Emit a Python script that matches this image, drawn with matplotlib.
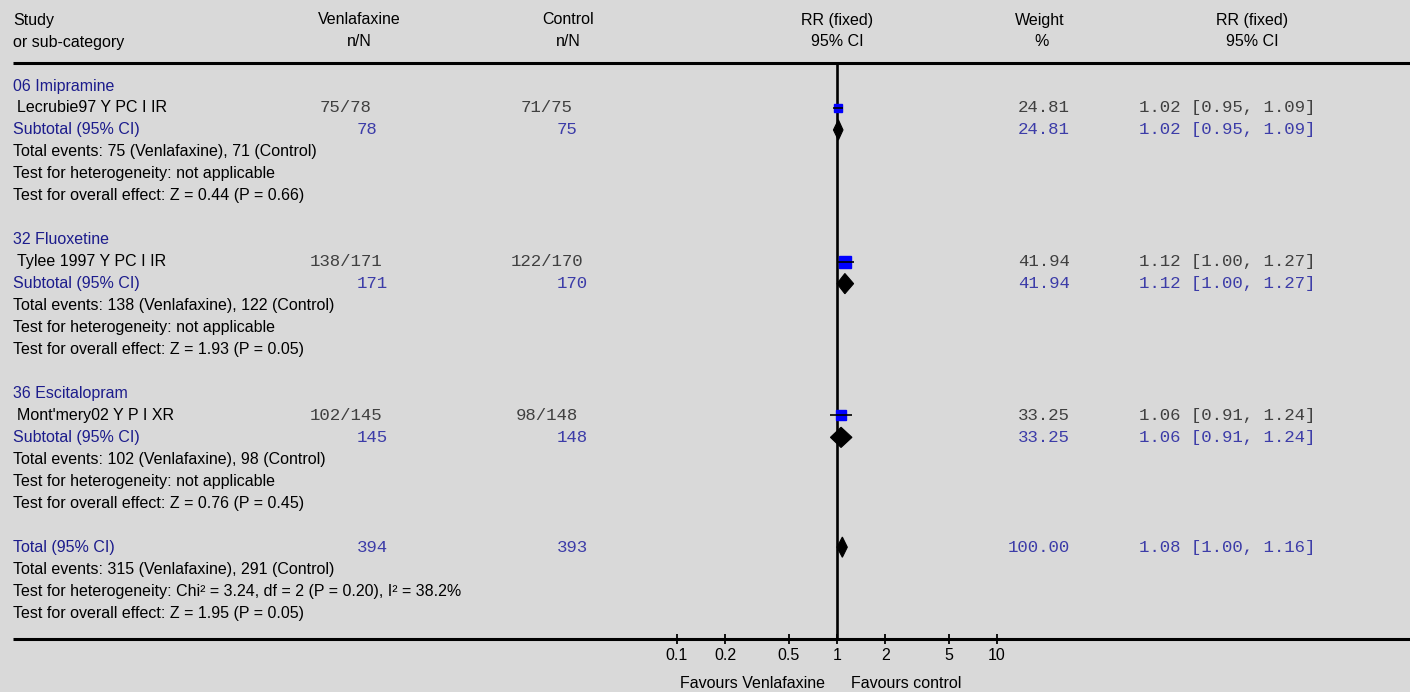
import numpy as np
import matplotlib
matplotlib.use("Agg")
import matplotlib.pyplot as plt
from matplotlib.patches import Polygon

# ---------------- data ----------------
groups = ["06 Imipramine", "32 Fluoxetine", "36 Escitalopram"]
studies = ["Lecrubie97 Y PC I IR", "Tylee 1997 Y PC I IR", "Mont'mery02 Y P I XR"]
ven_events = [75, 138, 102]
ven_n = [78, 171, 145]
ctl_events = [71, 122, 98]
ctl_n = [75, 170, 148]
weights = [24.81, 41.94, 33.25]
rr = [1.02, 1.12, 1.06]
rr_lo = [0.95, 1.00, 0.91]
rr_hi = [1.09, 1.27, 1.24]
z_vals = [0.44, 1.93, 0.76]
p_vals = [0.66, 0.05, 0.45]

total_ven_n = 394
total_ctl_n = 393
total_ven_ev = 315
total_ctl_ev = 291
total_weight = 100.00
total_rr, total_lo, total_hi = 1.08, 1.00, 1.16
chi2, df, p_het, i2 = 3.24, 2, 0.20, 38.2
total_z, total_p = 1.95, 0.05

tick_vals = [0.1, 0.2, 0.5, 1, 2, 5, 10]
tick_labels = ["0.1", "0.2", "0.5", "1", "2", "5", "10"]

# ---------------- style ----------------
W, H = 1410, 692
DPI = 100
BG = "#d9d9d9"
NAVY = "#1c1c8c"
MONO_GREY = "#404040"
MONO_BLUE = "#3c3ca8"
SANS = "Liberation Sans"
MONO = "Liberation Mono"
FS = 11.5
FSM = 12.5

ROW0, ROWH = 86.0, 21.96
def rowy(i):
    return ROW0 + ROWH * i

fig = plt.figure(figsize=(W / DPI, H / DPI), dpi=DPI, facecolor=BG)

tab = fig.add_axes([0, 0, 1, 1])
tab.set_xlim(0, W)
tab.set_ylim(H, 0)
tab.axis("off")
tab.set_facecolor(BG)

# forest axes: 0.1 -> x=677px, 10 -> x=997px ; top=63px, bottom=639px
fx0, fx1 = 677, 997
fy_top, fy_bot = 63, 639
fax = fig.add_axes([fx0 / W, 1 - fy_bot / H, (fx1 - fx0) / W, (fy_bot - fy_top) / H])
fax.set_xscale("log")
fax.set_xlim(0.1, 10)
fax.set_ylim((fy_bot - ROW0) / ROWH, (fy_top - ROW0) / ROWH)
fax.patch.set_alpha(0)
for s in fax.spines.values():
    s.set_visible(False)
fax.set_yticks([])
fax.set_xticks(tick_vals)
fax.set_xticklabels(tick_labels)
fax.minorticks_off()
fax.tick_params(axis="x", direction="inout", length=7, width=1.3, pad=3,
                labelsize=FS, colors="black")
for lab in fax.get_xticklabels():
    lab.set_fontfamily(SANS)

# header
def t(x, y, s, ha="left", color="black", fam=SANS, fs=FS):
    tab.text(x, y, s, ha=ha, va="center", color=color, fontfamily=fam, fontsize=fs)

t(13, 20, "Study"); t(13, 42, "or sub-category")
t(359, 20, "Venlafaxine", ha="center"); t(359, 42, "n/N", ha="center")
t(568, 20, "Control", ha="center"); t(568, 42, "n/N", ha="center")
t(837, 20, "RR (fixed)", ha="center"); t(837, 42, "95% CI", ha="center")
t(1040, 20, "Weight", ha="center"); t(1042, 42, "%", ha="center")
t(1252, 20, "RR (fixed)", ha="center"); t(1252, 42, "95% CI", ha="center")

tab.plot([13, W], [63, 63], color="black", lw=2.2, solid_capstyle="butt")
tab.plot([13, W], [639, 639], color="black", lw=2.2, solid_capstyle="butt")

fax.axvline(1, color="black", lw=1.9, zorder=1)

X_VEN_EV, X_VEN_N = 346, 357
X_CTL_EV, X_CTL_N = 547, 557
X_W, X_RR = 1070, 1139

row = 0
for g in range(len(groups)):
    t(13, rowy(row), groups[g], color=NAVY)
    # study row
    r = row + 1
    t(17, rowy(r), studies[g])
    t(X_VEN_EV, rowy(r), f"{ven_events[g]}/{ven_n[g]}", ha="center", color=MONO_GREY, fam=MONO, fs=FSM)
    t(X_CTL_EV, rowy(r), f"{ctl_events[g]}/{ctl_n[g]}", ha="center", color=MONO_GREY, fam=MONO, fs=FSM)
    t(X_W, rowy(r), f"{weights[g]:.2f}", ha="right", color=MONO_GREY, fam=MONO, fs=FSM)
    t(X_RR, rowy(r), f"{rr[g]:.2f} [{rr_lo[g]:.2f}, {rr_hi[g]:.2f}]", color=MONO_GREY, fam=MONO, fs=FSM)
    ms = np.sqrt(weights[g]) * 1.8 * 72 / DPI
    fax.plot([rr[g]], [r], marker="s", ms=ms, color="#0000ff", mec="#0000ff", ls="none", zorder=3)
    fax.plot([rr_lo[g], rr_hi[g]], [r, r], color="black", lw=1.2, zorder=4, solid_capstyle="butt")
    # subtotal row
    r = row + 2
    t(13, rowy(r), "Subtotal (95% CI)", color=NAVY)
    t(X_VEN_N, rowy(r), f"{ven_n[g]}", color=MONO_BLUE, fam=MONO, fs=FSM)
    t(X_CTL_N, rowy(r), f"{ctl_n[g]}", color=MONO_BLUE, fam=MONO, fs=FSM)
    t(X_W, rowy(r), f"{weights[g]:.2f}", ha="right", color=MONO_BLUE, fam=MONO, fs=FSM)
    t(X_RR, rowy(r), f"{rr[g]:.2f} [{rr_lo[g]:.2f}, {rr_hi[g]:.2f}]", color=MONO_BLUE, fam=MONO, fs=FSM)
    hh = 0.46
    fax.add_patch(Polygon([[rr_lo[g], r], [rr[g], r - hh], [rr_hi[g], r], [rr[g], r + hh]],
                          closed=True, facecolor="black", edgecolor="black", lw=0.8, zorder=3))
    t(13, rowy(row + 3), f"Total events: {ven_events[g]} (Venlafaxine), {ctl_events[g]} (Control)")
    t(13, rowy(row + 4), "Test for heterogeneity: not applicable")
    t(13, rowy(row + 5), f"Test for overall effect: Z = {z_vals[g]:.2f} (P = {p_vals[g]:.2f})")
    row += 7

r = row
t(13, rowy(r), "Total (95% CI)", color=NAVY)
t(X_VEN_N, rowy(r), f"{total_ven_n}", color=MONO_BLUE, fam=MONO, fs=FSM)
t(X_CTL_N, rowy(r), f"{total_ctl_n}", color=MONO_BLUE, fam=MONO, fs=FSM)
t(X_W, rowy(r), f"{total_weight:.2f}", ha="right", color=MONO_BLUE, fam=MONO, fs=FSM)
t(X_RR, rowy(r), f"{total_rr:.2f} [{total_lo:.2f}, {total_hi:.2f}]", color=MONO_BLUE, fam=MONO, fs=FSM)
fax.add_patch(Polygon([[total_lo, r], [total_rr, r - 0.46], [total_hi, r], [total_rr, r + 0.46]],
                      closed=True, facecolor="black", edgecolor="black", lw=0.8, zorder=3))
t(13, rowy(r + 1), f"Total events: {total_ven_ev} (Venlafaxine), {total_ctl_ev} (Control)")
t(13, rowy(r + 2), f"Test for heterogeneity: Chi\u00b2 = {chi2:.2f}, df = {df} (P = {p_het:.2f}), I\u00b2 = {i2:.1f}%")
t(13, rowy(r + 3), f"Test for overall effect: Z = {total_z:.2f} (P = {total_p:.2f})")

t(825, 683, "Favours Venlafaxine", ha="right")
t(851, 683, "Favours control", ha="left")

fig.savefig("out.png", dpi=DPI, facecolor=BG)
